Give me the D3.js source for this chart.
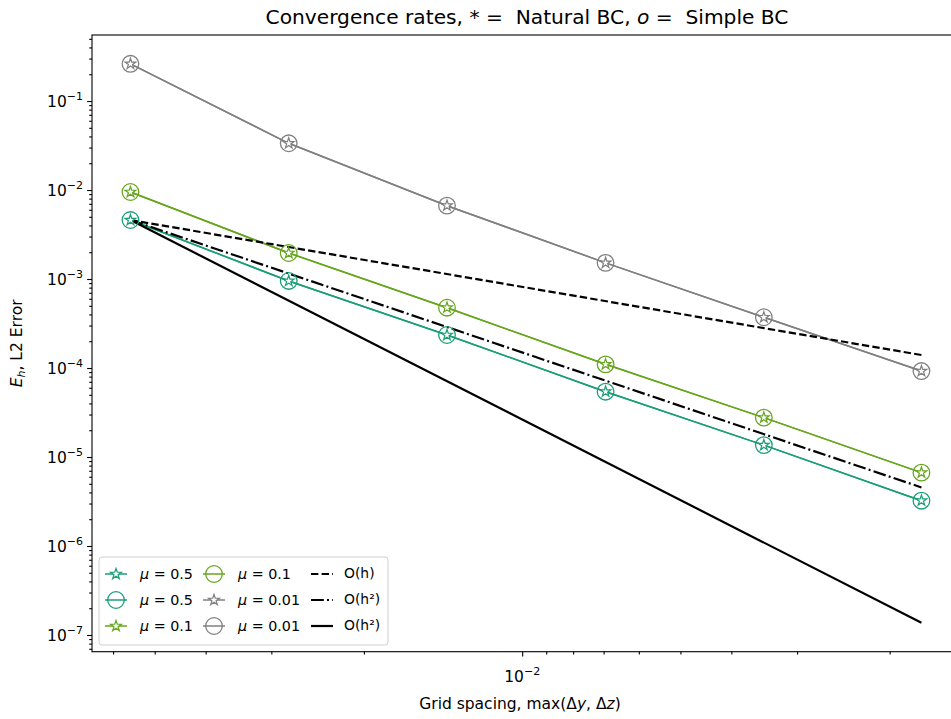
<!DOCTYPE html>
<html>
<head>
<meta charset="utf-8">
<script src="https://cdn.jsdelivr.net/npm/d3@7"></script>
<style>
    body { margin: 0; background: #fff; }
    text { font-family: "DejaVu Sans", sans-serif; white-space: pre; }
</style>
</head>
<body>
<script>
// ============================================ DATA ===================================================================
let gridSpacing = [0.0556, 0.0278, 0.0139, 0.00694, 0.00347, 0.00174];

let errMu05Natural  = [4.60e-3, 9.51e-4, 2.35e-4, 5.42e-5, 1.36e-5, 3.23e-6];
let errMu05Simple   = [4.60e-3, 9.51e-4, 2.35e-4, 5.42e-5, 1.36e-5, 3.23e-6];
let errMu01Natural  = [9.50e-3, 1.96e-3, 4.76e-4, 1.10e-4, 2.77e-5, 6.67e-6];
let errMu01Simple   = [9.50e-3, 1.96e-3, 4.76e-4, 1.10e-4, 2.77e-5, 6.67e-6];
let errMu001Natural = [0.262, 0.0335, 6.67e-3, 1.52e-3, 3.72e-4, 9.24e-5];
let errMu001Simple  = [0.262, 0.0335, 6.67e-3, 1.52e-3, 3.72e-4, 9.24e-5];

// reference slopes, start and end values
let refSpacing = [0.0556, 0.00174];
let refOh  = [4.60e-3, 1.40e-4];
let refOh2 = [4.60e-3, 4.55e-6];
let refOh3 = [4.60e-3, 1.37e-7];

let yTickExps = [-1, -2, -3, -4, -5, -6, -7];
let xTickExps = [-2];

let series = [
    { label: 'μ = 0.5',  values: errMu05Natural,  color: '#1b9e77', marker: 'star' },
    { label: 'μ = 0.5',  values: errMu05Simple,   color: '#1b9e77', marker: 'circle' },
    { label: 'μ = 0.1',  values: errMu01Natural,  color: '#66a61e', marker: 'star' },
    { label: 'μ = 0.1',  values: errMu01Simple,   color: '#66a61e', marker: 'circle' },
    { label: 'μ = 0.01', values: errMu001Natural, color: '#808080', marker: 'star' },
    { label: 'μ = 0.01', values: errMu001Simple,  color: '#808080', marker: 'circle' }
];

let refLines = [
    { label: 'O(h)',  values: refOh,  dash: '7.4,3.2' },
    { label: 'O(h²)', values: refOh2, dash: '12.8,3.2,2,3.2' },
    { label: 'O(h²)', values: refOh3, dash: null }
];

// ============================================ SETUP ==================================================================
let W = 951, H = 719;
let plotLeft = 92, plotRight = 961.5, plotTop = 35, plotBottom = 651.7;
let tickFont = 15.5, supFont = 11;

let svg = d3.select('body')
    .append('svg')
        .attr('width', W)
        .attr('height', H);

let x = d3.scaleLog().domain([0.0658, 0.00146]).range([plotLeft, plotRight]);
let y = d3.scaleLog().domain([0.552, 6.49e-8]).range([plotTop, plotBottom]);

svg.append('clipPath').attr('id', 'clip')
    .append('rect')
        .attr('x', plotLeft).attr('y', plotTop)
        .attr('width', plotRight - plotLeft).attr('height', plotBottom - plotTop);

let plot = svg.append('g').attr('clip-path', 'url(#clip)');

// ============================================ AXES ===================================================================
let yMinor = [];
for (let e = -8; e <= 0; e++) for (let m = 2; m <= 9; m++) yMinor.push(m * Math.pow(10, e));
yMinor = yMinor.filter(function (v) { return v <= 0.552 && v >= 6.49e-8 });

let xMinor = [];
for (let e = -3; e <= -1; e++) for (let m = 2; m <= 9; m++) xMinor.push(m * Math.pow(10, e));
xMinor = xMinor.filter(function (v) { return v <= 0.0658 && v >= 0.00146 });

let yAxis = svg.append('g')
    .attr('transform', 'translate(' + plotLeft + ',0)')
    .call(d3.axisLeft(y).tickValues(yTickExps.map(function (e) { return Math.pow(10, e) }))
        .tickSize(4.9).tickFormat(''));
yAxis.append('g')
    .call(d3.axisLeft(y).tickValues(yMinor).tickSize(2.8).tickFormat(''));

let xAxis = svg.append('g')
    .attr('transform', 'translate(0,' + plotBottom + ')')
    .call(d3.axisBottom(x).tickValues(xTickExps.map(function (e) { return Math.pow(10, e) }))
        .tickSize(4.9).tickFormat(''));
xAxis.append('g')
    .call(d3.axisBottom(x).tickValues(xMinor).tickSize(2.8).tickFormat(''));

svg.selectAll('.domain').remove();
svg.selectAll('.tick line').attr('stroke', '#000').attr('stroke-width', 1.1);

// tick labels, 10 with superscript exponent
yTickExps.forEach(function (e) {
    let t = svg.append('text')
        .attr('x', plotLeft - 9)
        .attr('y', y(Math.pow(10, e)) + 6)
        .attr('text-anchor', 'end')
        .attr('font-size', tickFont)
        .attr('fill', '#000');
    t.append('tspan').text('10');
    t.append('tspan').attr('dy', -7).attr('font-size', supFont).text('−' + Math.abs(e));
});

xTickExps.forEach(function (e) {
    let t = svg.append('text')
        .attr('x', x(Math.pow(10, e)))
        .attr('y', plotBottom + 30)
        .attr('text-anchor', 'middle')
        .attr('font-size', tickFont)
        .attr('fill', '#000');
    t.append('tspan').text('10');
    t.append('tspan').attr('dy', -7).attr('font-size', supFont).text('−' + Math.abs(e));
});

// frame
svg.append('rect')
    .attr('x', plotLeft).attr('y', plotTop)
    .attr('width', plotRight - plotLeft).attr('height', plotBottom - plotTop)
    .attr('fill', 'none')
    .attr('stroke', '#000')
    .attr('stroke-width', 1.1);

// ============================================ TEXT ===================================================================
let title = svg.append('text')
    .attr('x', 527)
    .attr('y', 24)
    .attr('text-anchor', 'middle')
    .attr('font-size', 20.2)
    .attr('fill', '#000');
title.append('tspan').text('Convergence rates, * =  Natural BC, ');
title.append('tspan').attr('font-style', 'italic').text('o');
title.append('tspan').text(' =  Simple BC');

let xLabel = svg.append('text')
    .attr('x', 520)
    .attr('y', 709)
    .attr('text-anchor', 'middle')
    .attr('font-size', tickFont)
    .attr('fill', '#000');
xLabel.append('tspan').text('Grid spacing, max(Δ');
xLabel.append('tspan').attr('font-style', 'italic').text('y');
xLabel.append('tspan').text(', Δ');
xLabel.append('tspan').attr('font-style', 'italic').text('z');
xLabel.append('tspan').text(')');

let yLabel = svg.append('text')
    .attr('transform', 'translate(22,' + ((plotTop + plotBottom) / 2) + ') rotate(-90)')
    .attr('text-anchor', 'middle')
    .attr('font-size', tickFont)
    .attr('fill', '#000');
yLabel.append('tspan').attr('font-style', 'italic').text('E');
yLabel.append('tspan').attr('font-style', 'italic').attr('font-size', supFont).attr('dy', 3).text('h');
yLabel.append('tspan').attr('dy', -3).text(', L2 Error');

// ============================================ LINES ==================================================================
let lineGenerator = d3.line()
    .x(function (d) { return x(d[0]) })
    .y(function (d) { return y(d[1]) });

series.forEach(function (s) {
    plot.append('path')
        .attr('fill', 'none')
        .attr('stroke', s.color)
        .attr('stroke-width', 1.5)
        .attr('d', lineGenerator(d3.zip(gridSpacing, s.values)));
});

refLines.forEach(function (r) {
    plot.append('path')
        .attr('fill', 'none')
        .attr('stroke', '#000')
        .attr('stroke-width', 2.2)
        .attr('stroke-dasharray', r.dash)
        .attr('d', lineGenerator(d3.zip(refSpacing, r.values)));
});

// ============================================ MARKERS ================================================================
let starPath = d3.symbol().type(d3.symbolStar).size(36)();

function drawMarker(g, kind, color, cx, cy) {
    if (kind === 'circle') {
        g.append('circle')
            .attr('cx', cx).attr('cy', cy).attr('r', 8.3)
            .attr('fill', 'none')
            .attr('stroke', color)
            .attr('stroke-width', 1.3);
    } else {
        g.append('path')
            .attr('d', starPath)
            .attr('transform', 'translate(' + cx + ',' + cy + ')')
            .attr('fill', '#fff')
            .attr('stroke', color)
            .attr('stroke-width', 1.2);
    }
}

series.forEach(function (s) {
    s.values.forEach(function (v, i) {
        drawMarker(plot, s.marker, s.color, x(gridSpacing[i]), y(v));
    });
});

// ============================================ LEGEND =================================================================
let legend = svg.append('g');

legend.append('rect')
    .attr('x', 99).attr('y', 557)
    .attr('width', 289).attr('height', 88)
    .attr('rx', 3)
    .attr('fill', '#fff').attr('fill-opacity', 0.8)
    .attr('stroke', '#d0d0d0').attr('stroke-width', 1);

let rowY = [574, 600, 626];
let colX = [105, 203, 311];

let legendItems = series.map(function (s) { return { kind: 'series', d: s } })
    .concat(refLines.map(function (r) { return { kind: 'ref', d: r } }));

legendItems.forEach(function (item, i) {
    let col = Math.floor(i / 3), row = i % 3;
    let hx = colX[col], hy = rowY[row];
    if (item.kind === 'series') {
        legend.append('line')
            .attr('x1', hx).attr('x2', hx + 22)
            .attr('y1', hy).attr('y2', hy)
            .attr('stroke', item.d.color).attr('stroke-width', 1.5);
        drawMarker(legend, item.d.marker, item.d.color, hx + 11, hy);
        let t = legend.append('text')
            .attr('x', hx + 35).attr('y', hy + 5)
            .attr('font-size', 14.3).attr('fill', '#000');
        t.append('tspan').attr('font-style', 'italic').text('μ');
        t.append('tspan').text(item.d.label.slice(1));
    } else {
        legend.append('line')
            .attr('x1', hx).attr('x2', hx + 22)
            .attr('y1', hy).attr('y2', hy)
            .attr('stroke', '#000').attr('stroke-width', 2.2)
            .attr('stroke-dasharray', item.d.dash);
        legend.append('text')
            .attr('x', hx + 33).attr('y', hy + 4)
            .attr('font-size', 13.9).attr('fill', '#000')
            .text(item.d.label);
    }
});
</script>
</body>
</html>
